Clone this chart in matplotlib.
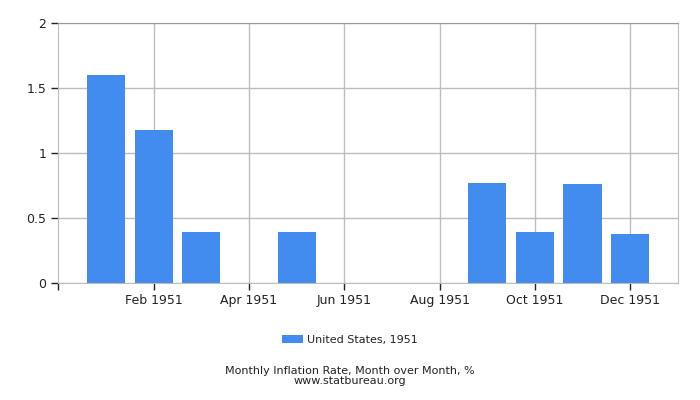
import matplotlib
matplotlib.use("Agg")
import matplotlib.pyplot as plt

months = ["Jan", "Feb", "Mar", "Apr", "May", "Jun", "Jul", "Aug", "Sep", "Oct", "Nov", "Dec"]
values = [1.6, 1.18, 0.39, 0.0, 0.39, 0.0, 0.0, 0.0, 0.77, 0.39, 0.76, 0.38]
tick_months = ["Feb 1951", "Apr 1951", "Jun 1951", "Aug 1951", "Oct 1951", "Dec 1951"]
series_label = "United States, 1951"
title = "Monthly Inflation Rate, Month over Month, %"
source = "www.statbureau.org"

plt.rcParams['font.family'] = ['DejaVu Sans']
fig = plt.figure(figsize=(7, 4), dpi=100)
ax = fig.add_axes([57.5/700, 1 - 283.3/400, (678.3-57.5)/700, (283.3-22.7)/400])

x = list(range(len(months)))
ax.bar(x, values, width=0.8, color="#428bef", label=series_label, zorder=2)

ax.set_xlim(-1.02, 12.01)
ax.set_ylim(0, 2)
ax.set_yticks([0, 0.5, 1, 1.5, 2])
ax.set_yticklabels(["0", "0.5", "1", "1.5", "2"])
ax.set_xticks([1, 3, 5, 7, 9, 11])
ax.set_xticklabels(tick_months)
ax.set_xticks([-1.02], minor=True)

ax.grid(True, color="#bdbdbd", linewidth=1, zorder=0)
ax.set_axisbelow(True)
for s in ["top"]:
    ax.spines[s].set_color("#999999")
for s in ["right", "bottom", "left"]:
    ax.spines[s].set_color("#bdbdbd")
ax.tick_params(axis="both", colors="#222222", labelsize=9, length=5, width=1)
ax.tick_params(axis="x", which="minor", length=5, width=1, colors="#222222")
ax.tick_params(axis="both", pad=3)

leg = fig.legend(loc="center", bbox_to_anchor=(350/700, 1 - 340/400), frameon=False,
                 fontsize=8, handlelength=1.9, handleheight=0.8, handletextpad=0.4)
for t in leg.get_texts():
    t.set_color("#222222")

fig.text(0.5, 1 - 371/400, title, ha="center", va="center", fontsize=8, color="#222222")
fig.text(0.5, 1 - 381.5/400, source, ha="center", va="center", fontsize=8, color="#222222")

fig.savefig("out.png", dpi=100)
